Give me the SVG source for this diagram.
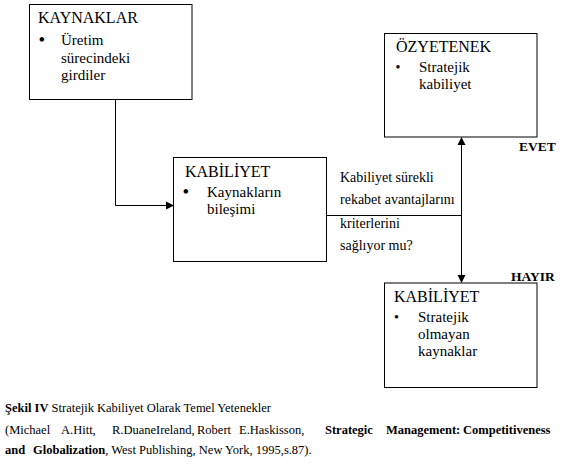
<svg xmlns="http://www.w3.org/2000/svg" width="570" height="466" viewBox="0 0 570 466" font-family="'Times New Roman', 'Liberation Serif', serif">
<rect width="570" height="466" fill="#fff"/>
<g id="connectors" fill="none" stroke="#000" stroke-width="1">
<polyline points="115.5,99.5 115.5,205.5 166,205.5"/>
<polygon points="166,201.5 174,205.5 166,209.5" fill="#000" stroke="none"/>
<line x1="327" y1="215.5" x2="461" y2="215.5"/>
<line x1="461.5" y1="145" x2="461.5" y2="275"/>
<polygon points="457.5,145 461.5,137 465.5,145" fill="#000" stroke="none"/>
<polygon points="457.5,275 461.5,283 465.5,275" fill="#000" stroke="none"/>
</g>
<g id="kaynaklar" font-family="'Times New Roman', 'Liberation Serif', serif">
<rect x="29.5" y="4.5" width="162.5" height="95" fill="#fff" stroke="#000"/>
<text font-family="Times New Roman" font-size="16px" x="38" y="23">KAYNAKLAR</text>
<text font-family="Times New Roman" font-size="19px" x="38.5" y="46">•</text>
<text font-family="Times New Roman" font-size="15px" x="61" y="45">Üretim</text>
<text font-family="Times New Roman" font-size="15px" x="61" y="62.5">sürecindeki</text>
<text font-family="Times New Roman" font-size="15px" x="61" y="80">girdiler</text>
</g>
<g id="kabiliyet" font-family="'Times New Roman', 'Liberation Serif', serif">
<rect x="173.5" y="157.5" width="153" height="104" fill="#fff" stroke="#000"/>
<text font-family="Times New Roman" font-size="16px" x="185" y="177">KABİLİYET</text>
<text font-family="Times New Roman" font-size="19px" x="182.5" y="198">•</text>
<text font-family="Times New Roman" font-size="15px" x="207" y="197">Kaynakların</text>
<text font-family="Times New Roman" font-size="15px" x="207" y="214">bileşimi</text>
</g>
<g id="soru" font-family="'Times New Roman', 'Liberation Serif', serif">
<text font-family="Times New Roman" font-size="14px" x="340" y="181.5">Kabiliyet sürekli</text>
<text font-family="Times New Roman" font-size="14px" x="340" y="204">rekabet avantajlarını</text>
<text font-family="Times New Roman" font-size="14px" x="340" y="228">kriterlerini</text>
<text font-family="Times New Roman" font-size="14px" x="340" y="250">sağlıyor mu?</text>
</g>
<g id="ozyetenek" font-family="'Times New Roman', 'Liberation Serif', serif">
<rect x="384.5" y="33.5" width="152.5" height="103.5" fill="#fff" stroke="#000"/>
<text font-family="Times New Roman" font-size="16px" x="396" y="52">ÖZYETENEK</text>
<text font-family="Times New Roman" font-size="14px" x="395.5" y="72">•</text>
<text font-family="Times New Roman" font-size="15px" x="419" y="72">Stratejik</text>
<text font-family="Times New Roman" font-size="15px" x="419" y="89">kabiliyet</text>
</g>
<g id="evet"><text font-family="Times New Roman" font-size="13.5px" font-weight="bold" x="519" y="151">EVET</text></g>
<g id="hayir"><text font-family="Times New Roman" font-size="13.5px" font-weight="bold" x="511" y="281">HAYIR</text></g>
<g id="kabiliyet2" font-family="'Times New Roman', 'Liberation Serif', serif">
<rect x="384.5" y="283" width="152.5" height="104.5" fill="#fff" stroke="#000"/>
<text font-family="Times New Roman" font-size="16px" x="394" y="302">KABİLİYET</text>
<text font-family="Times New Roman" font-size="14px" x="394" y="322">•</text>
<text font-family="Times New Roman" font-size="15px" x="418" y="322">Stratejik</text>
<text font-family="Times New Roman" font-size="15px" x="418" y="339">olmayan</text>
<text font-family="Times New Roman" font-size="15px" x="418" y="356">kaynaklar</text>
</g>
<g id="caption" font-family="'Times New Roman', 'Liberation Serif', serif">
<text font-family="Times New Roman" font-size="12.5px" x="5" y="412"><tspan font-weight="bold">Şekil IV</tspan> Stratejik Kabiliyet Olarak Temel Yetenekler</text>
<text font-family="Times New Roman" font-size="12.5px" x="5" y="434">(Michael</text>
<text font-family="Times New Roman" font-size="12.5px" x="61" y="434">A.Hitt,</text>
<text font-family="Times New Roman" font-size="12.5px" x="112" y="434">R.Duane</text>
<text font-family="Times New Roman" font-size="12.5px" x="156" y="434">Ireland,</text>
<text font-family="Times New Roman" font-size="12.5px" x="197" y="434">Robert</text>
<text font-family="Times New Roman" font-size="12.5px" x="239" y="434">E.Haskisson,</text>
<text font-family="Times New Roman" font-size="12.5px" font-weight="bold" x="325" y="434">Strategic</text>
<text font-family="Times New Roman" font-size="12.5px" font-weight="bold" x="386" y="434">Management:</text>
<text font-family="Times New Roman" font-size="12.5px" font-weight="bold" x="463" y="434">Competitiveness</text>
<text font-family="Times New Roman" font-size="12.5px" x="5" y="454"><tspan font-weight="bold">and</tspan><tspan x="33" font-weight="bold">Globalization</tspan>, West Publishing, New York, 1995,s.87).</text>
</g>
</svg>
